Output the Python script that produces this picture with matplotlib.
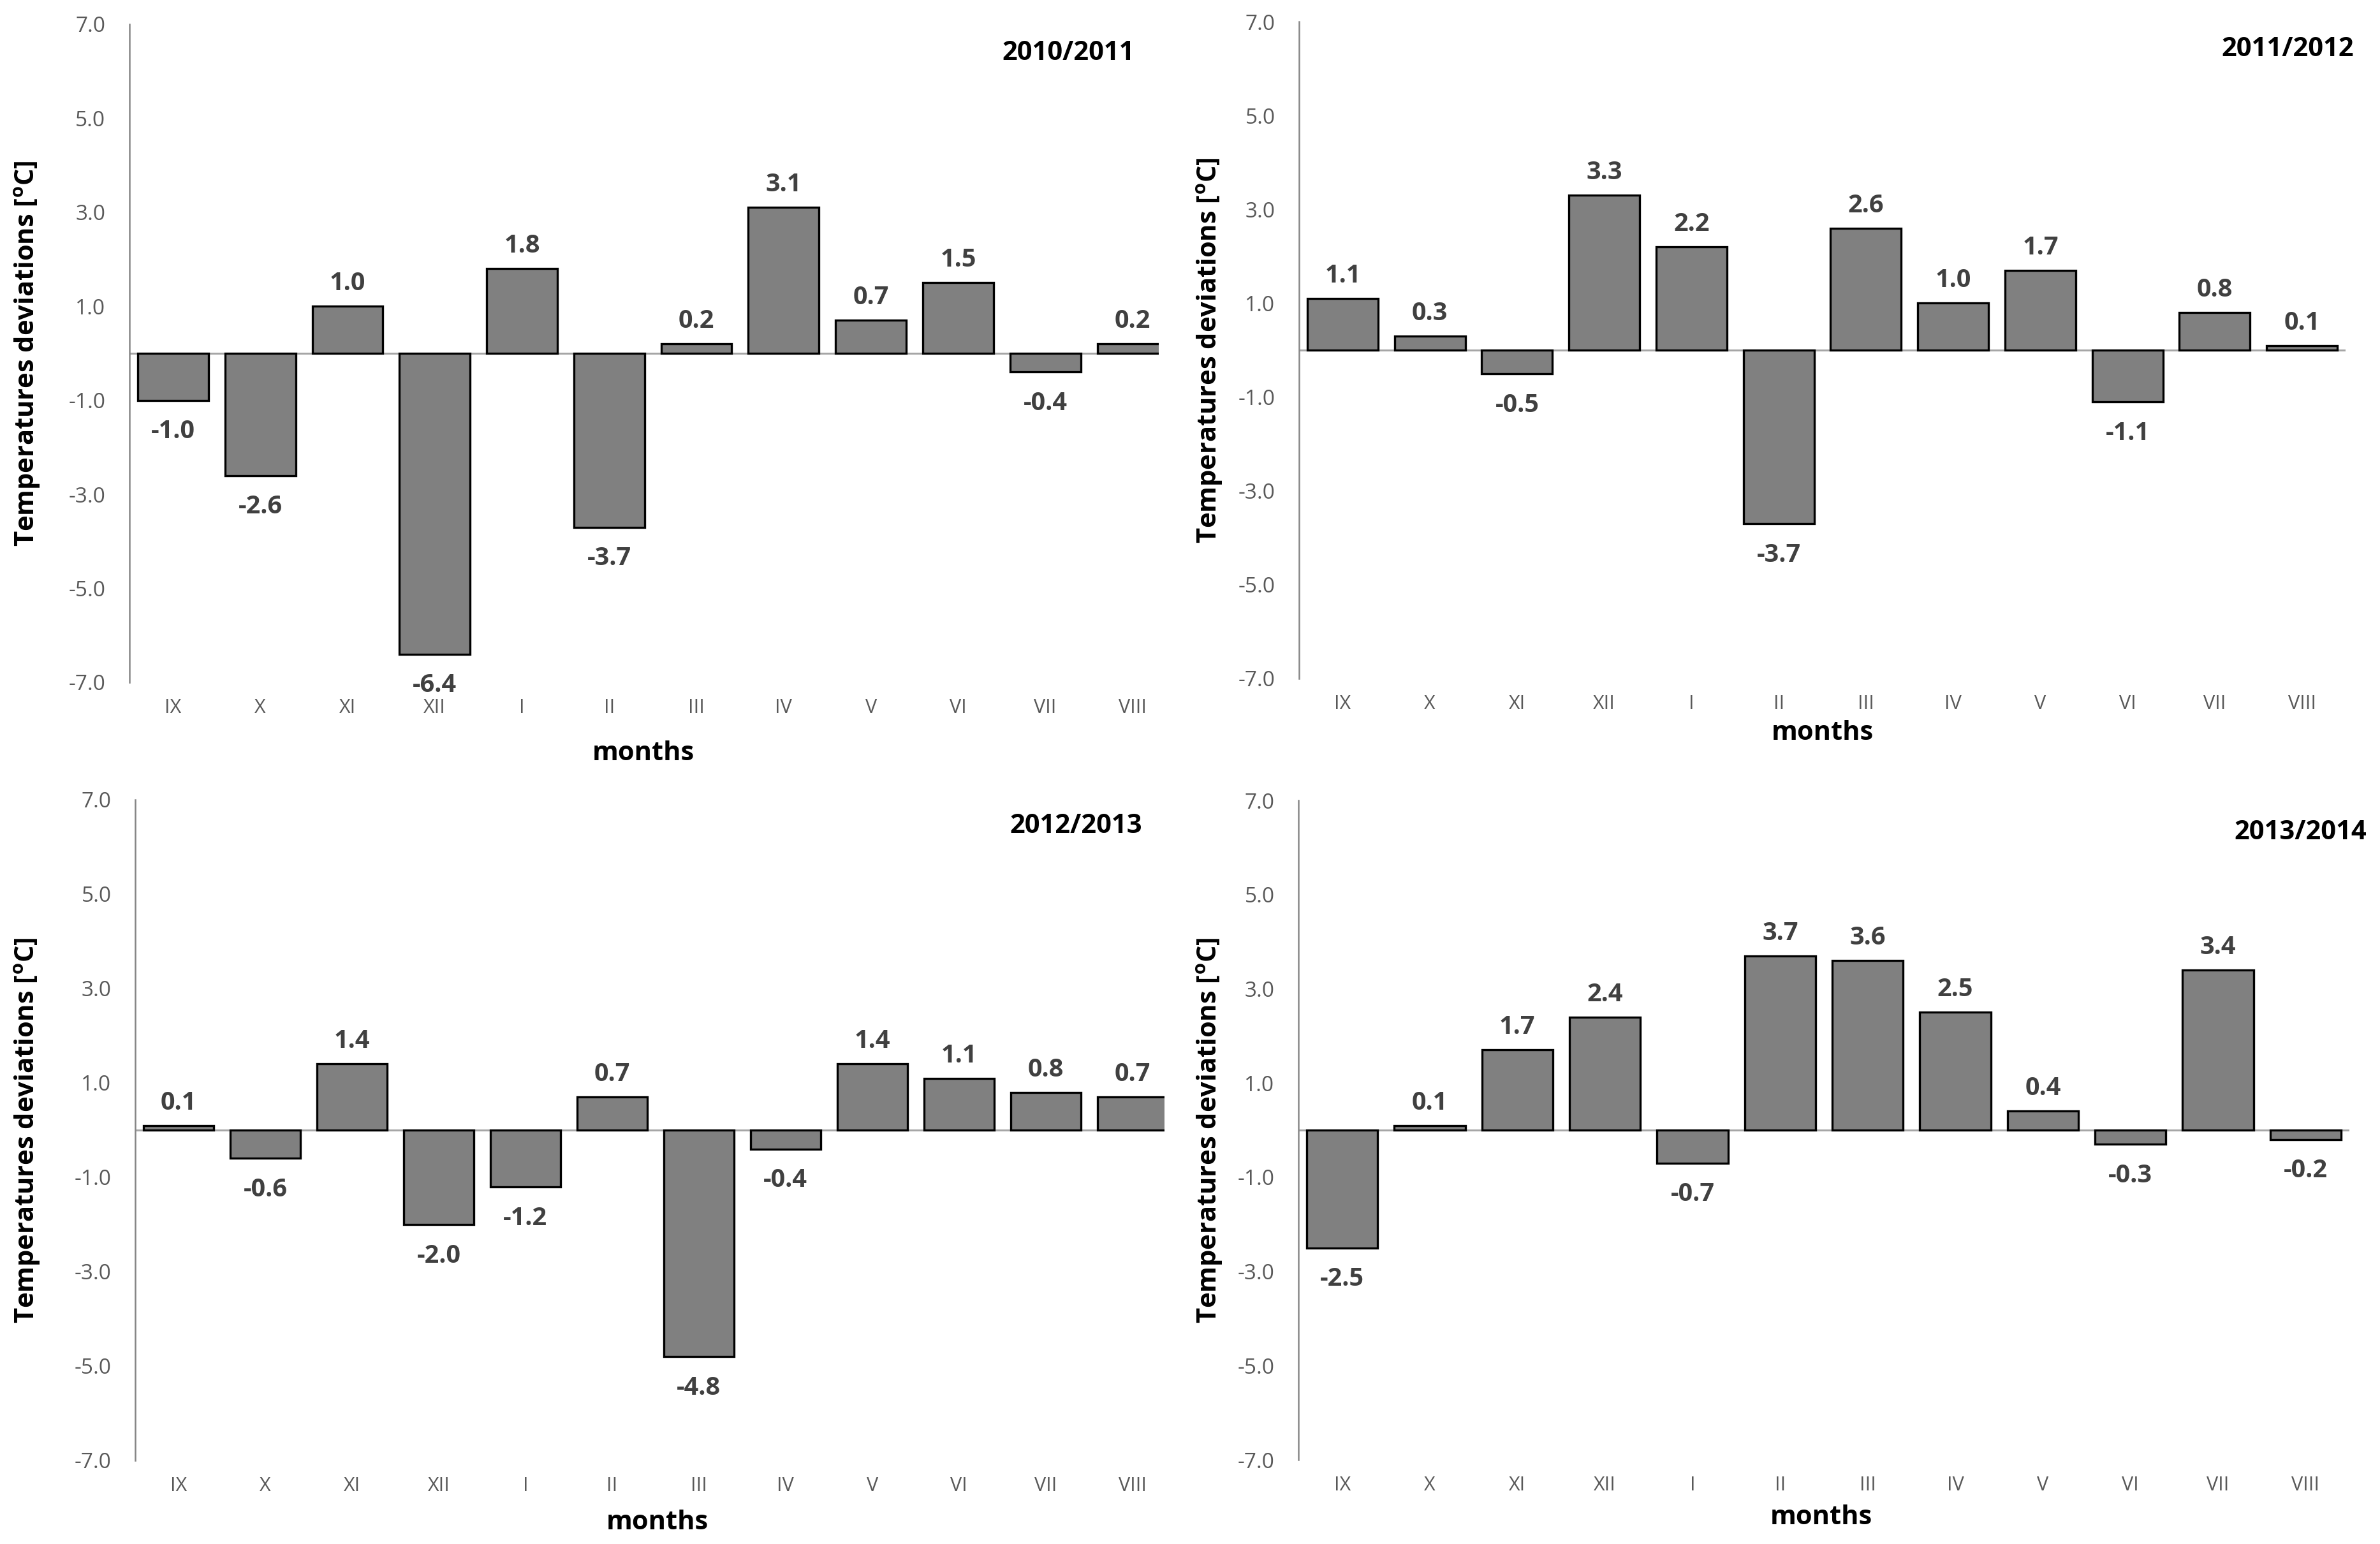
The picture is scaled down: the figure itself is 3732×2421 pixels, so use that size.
import matplotlib
matplotlib.use("Agg")
import matplotlib.pyplot as plt

months = ["IX", "X", "XI", "XII", "I", "II", "III", "IV", "V", "VI", "VII", "VIII"]
titles = ["2010/2011", "2011/2012", "2012/2013", "2013/2014"]
dev_2010_2011 = [-1.0, -2.6, 1.0, -6.4, 1.8, -3.7, 0.2, 3.1, 0.7, 1.5, -0.4, 0.2]
dev_2011_2012 = [1.1, 0.3, -0.5, 3.3, 2.2, -3.7, 2.6, 1.0, 1.7, -1.1, 0.8, 0.1]
dev_2012_2013 = [0.1, -0.6, 1.4, -2.0, -1.2, 0.7, -4.8, -0.4, 1.4, 1.1, 0.8, 0.7]
dev_2013_2014 = [-2.5, 0.1, 1.7, 2.4, -0.7, 3.7, 3.6, 2.5, 0.4, -0.3, 3.4, -0.2]
series = [dev_2010_2011, dev_2011_2012, dev_2012_2013, dev_2013_2014]
yticks = [7.0, 5.0, 3.0, 1.0, -1.0, -3.0, -5.0, -7.0]

FONT = ["Open Sans", "DejaVu Sans"]
plt.rcParams["font.family"] = FONT

W, H = 3732, 2421
DPI = 100
fig = plt.figure(figsize=(W / DPI, H / DPI), dpi=DPI)

# panel pixel boxes: left, right, top, bottom, xlim right
boxes = [
    (203, 1817, 38, 1070, 11.3),
    (2037, 3678, 34, 1064, 11.5),
    (212, 1826, 1254, 2290, 11.37),
    (2036, 3684, 1255, 2289, 11.5),
]
title_pos = [(1675, 84), (3587, 78), (1687, 1295), (3607, 1305)]
months_pos = [(1009, 1181), (2858, 1150), (1031, 2387), (2856, 2380)]
ylab_x = [43, 1897, 43, 1897]

for i, (vals, (l, r, t, b, xr)) in enumerate(zip(series, boxes)):
    ax = fig.add_axes([l / W, 1 - b / H, (r - l) / W, (b - t) / H])
    x = list(range(len(months)))
    ax.axhline(0, color="#a6a6a6", lw=2.2, zorder=1)
    ax.bar(x, vals, width=0.81, color="#808080", edgecolor="black", linewidth=2.4, zorder=2)
    ax.set_xlim(-0.5, xr)
    ax.set_ylim(-7, 7)
    ax.set_yticks(yticks)
    ax.set_yticklabels([f"{v:.1f}" for v in yticks], fontsize=24, color="#595959")
    ax.set_xticks(x)
    ax.set_xticklabels(months, fontsize=22, color="#595959")
    ax.tick_params(axis="y", length=0, pad=27)
    ax.tick_params(axis="x", length=0, pad=18)
    for s in ["top", "right", "bottom"]:
        ax.spines[s].set_visible(False)
    ax.spines["left"].set_color("#868686")
    ax.spines["left"].set_linewidth(1.8)
    for xi, v in zip(x, vals):
        off = 18 if v >= 0 else -43
        ax.annotate(f"{v:.1f}", (xi, v), xytext=(0, off), textcoords="offset points",
                    ha="center", va="baseline", fontweight="bold",
                    fontsize=28.5, color="#404040", annotation_clip=False)
    tx, ty = title_pos[i]
    fig.text(tx / W, 1 - ty / H, titles[i], ha="center", va="center",
             fontweight="bold", fontsize=30, color="black")
    mx, my = months_pos[i]
    fig.text(mx / W, 1 - my / H, "months", ha="center", va="center",
             fontweight="bold", fontsize=30, color="black")
    fig.text(ylab_x[i] / W, 1 - ((t + b) / 2) / H, "Temperatures deviations [$^\\mathregular{o}$C]",
             rotation=90, ha="center", va="center", fontweight="bold",
             fontsize=30, color="black")

fig.savefig("out.png", dpi=DPI, facecolor="white")
